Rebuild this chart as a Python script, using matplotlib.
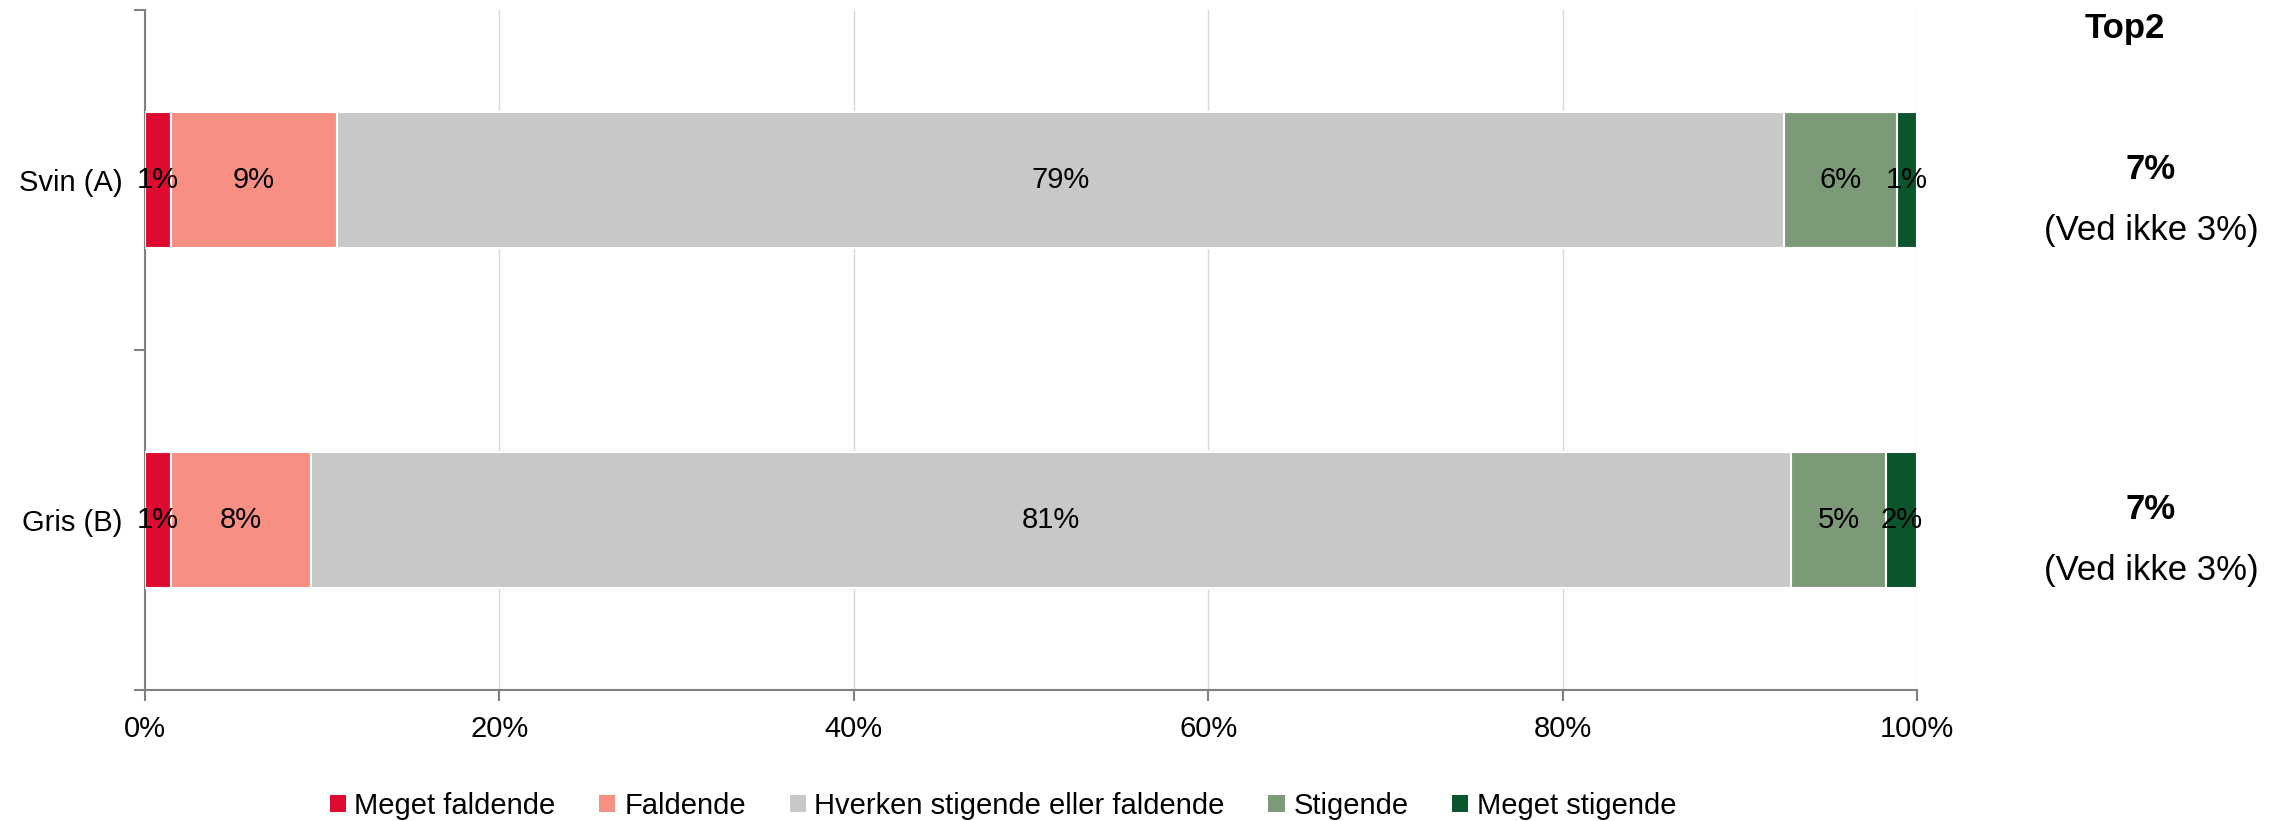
import matplotlib
matplotlib.use("Agg")
import matplotlib.pyplot as plt
from matplotlib.patches import Rectangle
import numpy as np

plt.rcParams['font.family'] = ['Liberation Sans', 'DejaVu Sans']

categories = ["Svin (A)", "Gris (B)"]
series_names = ["Meget faldende", "Faldende", "Hverken stigende eller faldende",
                "Stigende", "Meget stigende"]
colors = ["#DF0A30", "#F88F83", "#C8C8C8", "#7D9A78", "#0B552D"]

# answer shares in percent (excluding "ved ikke")
meget_faldende = [1.4, 1.4]
faldende = [9.1, 7.7]
hverken = [79.2, 81.0]
stigende = [6.2, 5.2]
meget_stigende = [1.1, 1.7]
ved_ikke = [3, 3]

x_ticks = [0, 20, 40, 60, 80, 100]
x_tick_labels = ["0%", "20%", "40%", "60%", "80%", "100%"]

series = np.array([meget_faldende, faldende, hverken, stigende, meget_stigende])
totals = series.sum(axis=0)
shares = series / totals * 100  # 100% stacked

fig = plt.figure(figsize=(22.82, 8.21), dpi=100)
ax_left, ax_w = 145, 1772
ax = fig.add_axes([ax_left / 2282, 1 - 690 / 821, ax_w / 2282, 680 / 821])

ypos = np.arange(len(categories))
left = np.zeros(len(categories))
fs = 21
for i, name in enumerate(series_names):
    ax.barh(ypos, shares[i], left=left, height=0.4, color=colors[i],
            edgecolor="white", linewidth=1.5, label=name, zorder=3)
    for j in range(len(categories)):
        ax.text(left[j] + shares[i][j] / 2, ypos[j], f"{series[i][j]:.0f}%",
                ha="center", va="center", fontsize=fs, color="black", zorder=4)
    left += shares[i]

ax.set_xlim(0, 100)
ax.set_ylim(1.5, -0.5)
ax.set_xticks(x_ticks)
ax.set_xticklabels(x_tick_labels, fontsize=fs)
ax.set_yticks(ypos)
ax.set_yticklabels(categories, fontsize=fs)
ax.set_yticks([-0.5, 0.5, 1.5], minor=True)
ax.tick_params(axis="y", which="major", length=0, pad=16)
ax.tick_params(axis="y", which="minor", length=8, width=1.5, color="#808080")
ax.tick_params(axis="x", length=8, width=1.5, color="#808080", pad=10)

ax.grid(axis="x", color="#D9D9D9", linewidth=1, zorder=0)
ax.set_axisbelow(True)
for s in ["top", "right"]:
    ax.spines[s].set_visible(False)
for s in ["left", "bottom"]:
    ax.spines[s].set_color("#808080")
    ax.spines[s].set_linewidth(1.5)

# Top2 summary column
tf = ax.get_yaxis_transform()
ax.text((2125 - ax_left) / ax_w, -0.445, "Top2", transform=tf, ha="center",
        va="center", fontsize=25, fontweight="bold")
for j in range(len(categories)):
    top2 = stigende[j] + meget_stigende[j]
    ax.text((2151 - ax_left) / ax_w, ypos[j] - 0.03, f"{top2:.0f}%", transform=tf,
            ha="center", va="center", fontsize=25, fontweight="bold")
    ax.text((2151 - ax_left) / ax_w, ypos[j] + 0.148, f"(Ved ikke {ved_ikke[j]}%)",
            transform=tf, ha="center", va="center", fontsize=25)

handles = [Rectangle((0, 0), 1, 1, facecolor=c) for c in colors]
fig.legend(handles, series_names, loc="center", bbox_to_anchor=(1003 / 2282, 1 - 806 / 821),
           ncol=5, frameon=False, fontsize=fs, handlelength=0.55, handleheight=0.55,
           handletextpad=0.3, columnspacing=1.5)

fig.savefig("out.png", dpi=100)
